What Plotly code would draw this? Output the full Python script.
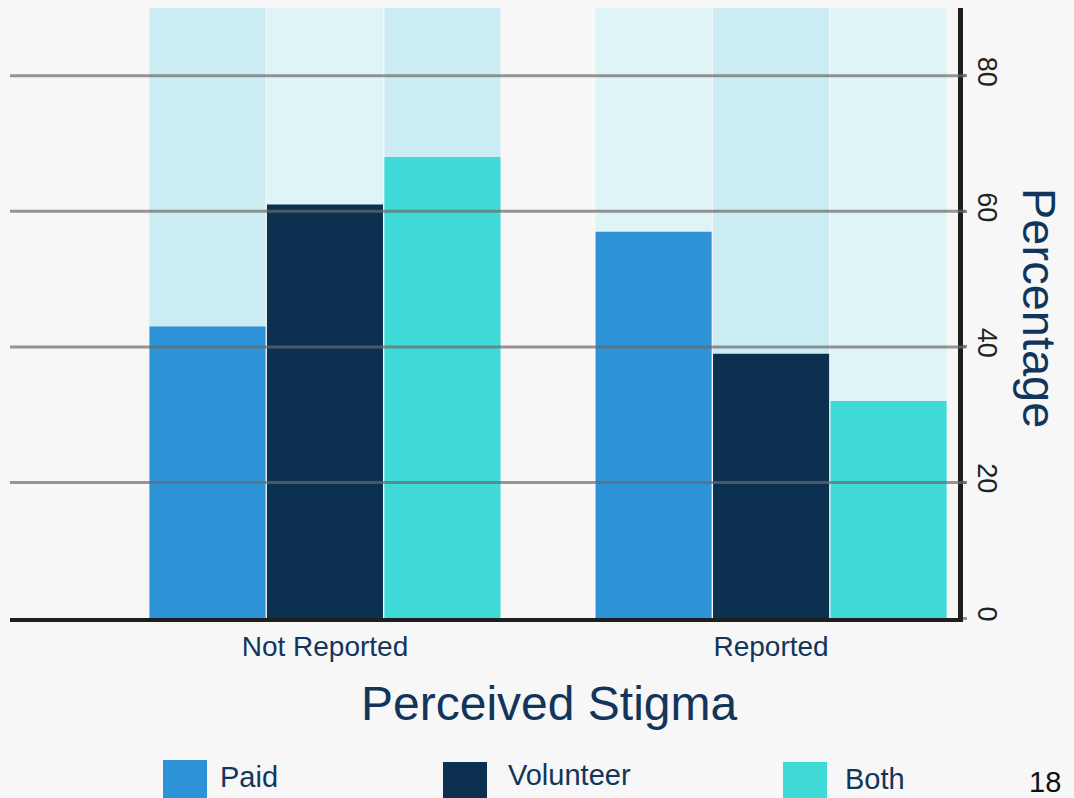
import plotly.graph_objects as go

# data (percent within each worker group)
categories = ['Not Reported', 'Reported']
series_names = ['Paid', 'Volunteer', 'Both']
paid = [43, 57]
volunteer = [61, 39]
both = [68, 32]
backdrop = [90, 90]
y_ticks = [0, 20, 40, 60, 80]
grid_ticks = [20, 40, 60, 80]

values = {'Paid': paid, 'Volunteer': volunteer, 'Both': both}
colors = {'Paid': '#2E92D6', 'Volunteer': '#0C3050', 'Both': '#3FDAD8'}
backdrop_colors = {
    'Paid': ['#CCECF3', '#DFF4F6'],
    'Volunteer': ['#DFF4F6', '#CCECF3'],
    'Both': ['#CCECF3', '#DFF4F6'],
}

W, H = 1074, 798
L, R, T, B = 10, 116, 8, 180
NAVY = '#12355B'
FONT = 'Liberation Sans, Arial, sans-serif'


def px_x(px):
    return (px - L) / (W - L - R)


def px_y(py):
    return (H - B - py) / (H - T - B)


fig = go.Figure()

# pale full-height columns behind each bar
for i, name in enumerate(series_names):
    fig.add_trace(go.Bar(
        x=categories, y=backdrop, offsetgroup=str(i),
        marker=dict(color=backdrop_colors[name], line=dict(width=0)),
        showlegend=False, hoverinfo='skip'
    ))

for i, name in enumerate(series_names):
    fig.add_trace(go.Bar(
        x=categories, y=values[name], name=name, offsetgroup=str(i),
        marker=dict(color=colors[name], line=dict(width=0)),
        showlegend=False
    ))

# grid lines sit above the bars in the original
for v in grid_ticks:
    fig.add_shape(type='line', xref='paper', yref='y', x0=0, x1=px_x(966),
                  y0=v, y1=v, layer='above',
                  line=dict(color='rgba(105,105,105,0.7)', width=3))

# hand-built legend with large swatches
legend_swatch_x = [163, 443, 783]
legend_text_x = [218, 506, 843]
legend_swatch_y = [(760, 800), (762, 800), (762, 800)]
legend_text_y = [777, 775, 779]
for name, sx, tx, (y0, y1), ty in zip(series_names, legend_swatch_x, legend_text_x,
                                       legend_swatch_y, legend_text_y):
    fig.add_shape(type='rect', xref='paper', yref='paper',
                  x0=px_x(sx), x1=px_x(sx + 44), y0=px_y(y1), y1=px_y(y0),
                  fillcolor=colors[name], line=dict(width=0), layer='above')
    fig.add_annotation(text=name, xref='paper', yref='paper',
                       x=px_x(tx), y=px_y(ty), xanchor='left', yanchor='middle',
                       showarrow=False, font=dict(size=29, color=NAVY, family=FONT))

fig.add_annotation(text='Percentage', xref='paper', yref='paper',
                   x=px_x(1040), y=px_y(308), textangle=90,
                   xanchor='center', yanchor='middle', showarrow=False,
                   font=dict(size=47, color=NAVY, family=FONT))
fig.add_annotation(text='Perceived Stigma', xref='paper', yref='paper',
                   x=px_x(549), y=px_y(703), xanchor='center', yanchor='middle',
                   showarrow=False, font=dict(size=48, color=NAVY, family=FONT))
fig.add_annotation(text='18', xref='paper', yref='paper',
                   x=px_x(1045), y=px_y(782), xanchor='center', yanchor='middle',
                   showarrow=False, font=dict(size=29, color='#111111', family=FONT))

fig.update_layout(
    width=W, height=H,
    margin=dict(l=L, r=R, t=T, b=B, pad=0),
    barmode='group', bargap=0.21, bargroupgap=0.012,
    paper_bgcolor='#F7F7F7', plot_bgcolor='rgba(0,0,0,0)',
    font=dict(family=FONT, color=NAVY),
    showlegend=False,
    xaxis=dict(
        type='category', range=[-0.706, 1.419],
        showline=True, linecolor='#1E1E1E', linewidth=4,
        showgrid=False, ticks='', zeroline=False,
        tickfont=dict(size=28, color=NAVY, family=FONT),
    ),
    yaxis=dict(
        side='right', range=[0, 90], tickvals=y_ticks,
        showline=True, linecolor='#1E1E1E', linewidth=5,
        showgrid=False, zeroline=False,
        ticks='outside', ticklen=4, tickwidth=3, tickcolor='rgba(105,105,105,0.7)',
        tickangle=90, ticklabelstandoff=0,
        tickfont=dict(size=27, color='#222222', family=FONT),
    ),
)

fig.write_html('out.html', config={'displayModeBar': False},
               post_script="document.body.style.margin='0';document.body.style.overflow='hidden';")
